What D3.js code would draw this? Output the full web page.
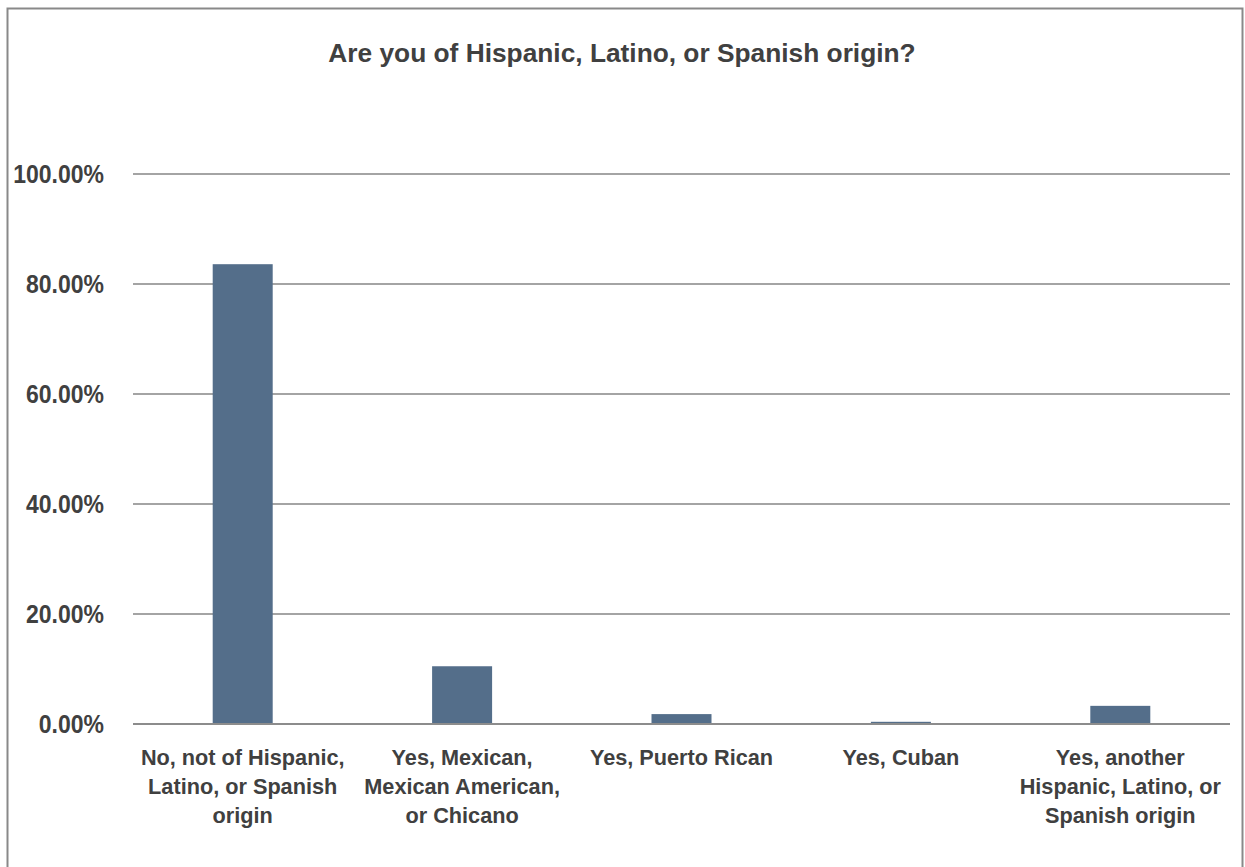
<!DOCTYPE html>
<html><head><meta charset="utf-8">
<script src="https://cdn.jsdelivr.net/npm/d3@7"></script>
<style>body{margin:0;background:#fff;}svg{display:block;}</style>
</head><body>
<svg id="c" width="1245" height="867"></svg>
<script>
const title = "Are you of Hispanic, Latino, or Spanish origin?";
const categories = [
  ["No, not of Hispanic,", "Latino, or Spanish", "origin"],
  ["Yes, Mexican,", "Mexican American,", "or Chicano"],
  ["Yes, Puerto Rican"],
  ["Yes, Cuban"],
  ["Yes, another", "Hispanic, Latino, or", "Spanish origin"]
];
const values = [83.6, 10.5, 1.8, 0.4, 3.3];
const yTicks = [0, 20, 40, 60, 80, 100];

const svg = d3.select("#c");
const font = "'Liberation Sans Narrow','Arial Narrow','Liberation Sans',Arial,sans-serif";
const m = {left: 133, right: 1230, top: 174, bottom: 724};

svg.append("rect").attr("x", 7.5).attr("y", 8.5).attr("width", 1235).attr("height", 880)
  .attr("fill", "#fff").attr("stroke", "#898989").attr("stroke-width", 2);

const idx = categories.map((d, i) => i);
const x = d3.scaleBand().domain(idx).range([m.left, m.right]).paddingInner(0).paddingOuter(0);
const y = d3.scaleLinear().domain([0, 100]).range([m.bottom, m.top]);

// gridlines
svg.append("g").selectAll("line").data(yTicks.filter(t => t > 0)).join("line")
  .attr("x1", m.left).attr("x2", m.right)
  .attr("y1", d => y(d)).attr("y2", d => y(d))
  .attr("stroke", "#868686").attr("stroke-width", 1.5);

// bars
const bw = 60;
svg.append("g").selectAll("rect").data(values).join("rect")
  .attr("x", (d, i) => x(i) + x.bandwidth() / 2 - bw / 2)
  .attr("width", bw)
  .attr("y", d => y(d))
  .attr("height", d => y(0) - y(d))
  .attr("fill", "#546E8A");

// baseline
svg.append("line").attr("x1", m.left).attr("x2", m.right)
  .attr("y1", y(0)).attr("y2", y(0)).attr("stroke", "#8c8c8c").attr("stroke-width", 2);

// y axis labels
const labelRight = 104;
svg.append("g").selectAll("text").data(yTicks).join("text")
  .attr("transform", d => `translate(${labelRight},${y(d)}) scale(0.92,1)`)
  .attr("text-anchor", "end").attr("dy", "0.36em")
  .attr("font-family", font).attr("font-weight", "bold")
  .attr("font-size", 25).attr("fill", "#404040")
  .text(d => d.toFixed(2) + "%");

// x category labels
const gx = svg.append("g");
categories.forEach((lines, i) => {
  const cx = x(i) + x.bandwidth() / 2;
  const t = gx.append("text").attr("x", cx).attr("y", 765)
    .attr("text-anchor", "middle").attr("font-family", font).attr("font-weight", "bold")
    .attr("font-size", 21.7).attr("fill", "#404040");
  lines.forEach((l, j) => t.append("tspan").attr("x", cx)
    .attr("dy", j === 0 ? 0 : 29).text(l));
});

// title
svg.append("text").attr("x", 622).attr("y", 62).attr("text-anchor", "middle")
  .attr("font-family", font).attr("font-weight", "bold").attr("font-size", 26.3)
  .attr("fill", "#404040").text(title);
</script>
</body></html>
